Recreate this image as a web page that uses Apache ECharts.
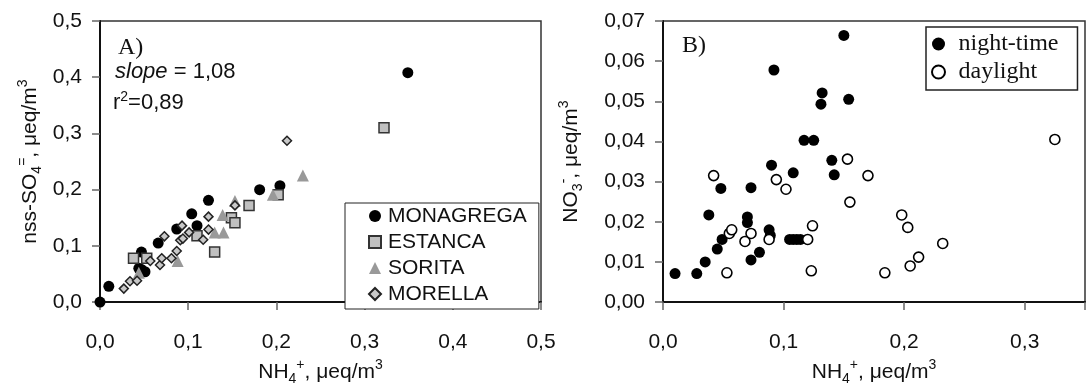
<!DOCTYPE html>
<html><head><meta charset="utf-8">
<script src="https://cdn.jsdelivr.net/npm/echarts@6/dist/echarts.min.js"></script>
<style>html,body{margin:0;padding:0;background:#fff}#c{width:1088px;height:391px}</style>
</head><body><div id="c"></div>
<script>
// ---- Data ----
const monagrega = [[0.000,0.000],[0.010,0.028],[0.044,0.060],[0.047,0.089],[0.047,0.058],[0.051,0.054],[0.066,0.105],[0.087,0.130],[0.104,0.157],[0.110,0.136],[0.123,0.181],[0.181,0.200],[0.204,0.207],[0.349,0.408]];
const estanca = [[0.038,0.078],[0.053,0.078],[0.110,0.118],[0.130,0.089],[0.149,0.150],[0.153,0.141],[0.169,0.172],[0.202,0.191],[0.322,0.310]];
const sorita = [[0.044,0.052],[0.088,0.073],[0.130,0.124],[0.140,0.124],[0.139,0.155],[0.153,0.180],[0.196,0.191],[0.230,0.225]];
const morella = [[0.027,0.024],[0.034,0.037],[0.042,0.038],[0.057,0.073],[0.068,0.066],[0.070,0.078],[0.081,0.078],[0.087,0.091],[0.073,0.117],[0.091,0.110],[0.094,0.113],[0.093,0.136],[0.101,0.124],[0.117,0.111],[0.123,0.129],[0.123,0.152],[0.153,0.172],[0.212,0.287]];
const nightTime = [[0.010,0.0071],[0.028,0.0071],[0.035,0.0100],[0.038,0.0217],[0.045,0.0132],[0.049,0.0156],[0.048,0.0283],[0.073,0.0285],[0.070,0.0212],[0.070,0.0198],[0.073,0.0105],[0.080,0.0124],[0.088,0.0180],[0.089,0.0166],[0.090,0.0341],[0.092,0.0578],[0.105,0.0156],[0.108,0.0156],[0.111,0.0156],[0.114,0.0156],[0.108,0.0322],[0.117,0.0403],[0.125,0.0403],[0.131,0.0493],[0.132,0.0521],[0.140,0.0353],[0.142,0.0317],[0.150,0.0664],[0.154,0.0505]];
const daylight = [[0.042,0.0315],[0.094,0.0305],[0.102,0.0281],[0.055,0.0171],[0.057,0.0180],[0.073,0.0171],[0.068,0.0151],[0.088,0.0156],[0.053,0.0073],[0.124,0.0190],[0.120,0.0156],[0.123,0.0078],[0.155,0.0249],[0.153,0.0356],[0.170,0.0315],[0.198,0.0217],[0.203,0.0186],[0.232,0.0146],[0.212,0.0112],[0.205,0.0090],[0.184,0.0073],[0.325,0.0405]];
const xTicksA = ['0,0','0,1','0,2','0,3','0,4','0,5'];
const yTicksA = ['0,0','0,1','0,2','0,3','0,4','0,5'];
const xTicksB = ['0,0','0,1','0,2','0,3'];
const yTicksB = ['0,00','0,01','0,02','0,03','0,04','0,05','0,06','0,07'];

const SANS = "'Liberation Sans', Arial, sans-serif";
const SERIF = "'Liberation Serif', 'Times New Roman', serif";
const nameRich = {
  n: {fontSize: 21, fontFamily: SANS, color: '#111', lineHeight: 28, verticalAlign: 'middle'},
  sub: {fontSize: 14, fontFamily: SANS, color: '#111', lineHeight: 14, verticalAlign: 'bottom'},
  sup: {fontSize: 14, fontFamily: SANS, color: '#111', lineHeight: 14, verticalAlign: 'top'}
};
function axisCommon(labels, margin) {
  return {
    axisLine: {show: true, onZero: false, lineStyle: {color: '#111', width: 2}},
    axisTick: {show: true, inside: false, length: 8, lineStyle: {color: '#666', width: 1.5}},
    axisLabel: {fontSize: 21, fontFamily: SANS, color: '#111', margin: margin,
      formatter: (v, i) => labels[i] !== undefined ? labels[i] : ''},
    splitLine: {show: false},
    nameLocation: 'middle',
    nameTextStyle: {rich: nameRich}
  };
}
const chart = echarts.init(document.getElementById('c'), null, {renderer: 'canvas'});
chart.setOption({
  backgroundColor: '#fff',
  animation: false,
  grid: [
    {left: 100, top: 21, width: 441, height: 287, show: true, borderColor: '#333', borderWidth: 1.5, backgroundColor: 'transparent'},
    {left: 663, top: 21, width: 430, height: 287, show: true, borderColor: '#333', borderWidth: 1.5, backgroundColor: 'transparent'}
  ],
  xAxis: [
    Object.assign(axisCommon(xTicksA, 30), {type: 'value', gridIndex: 0, min: 0, max: 0.5, interval: 0.1,
      name: '{n|NH}{sub|4}{sup|+}{n|, μeq/m}{sup|3}', nameGap: 54}),
    Object.assign(axisCommon(xTicksB, 30), {type: 'value', gridIndex: 1, min: 0, max: 0.35, interval: 0.1,
      name: '{n|NH}{sub|4}{sup|+}{n|, μeq/m}{sup|3}', nameGap: 54})
  ],
  yAxis: [
    Object.assign(axisCommon(yTicksA, 18), {type: 'value', gridIndex: 0, min: 0, max: 0.5, interval: 0.1,
      name: '{n|nss-SO}{sub|4}{sup|=}{n|, μeq/m}{sup|3}', nameGap: 56}),
    Object.assign(axisCommon(yTicksB, 18), {type: 'value', gridIndex: 1, min: 0, max: 0.07, interval: 0.01,
      name: '{n|NO}{sub|3}{sup|-}{n|, μeq/m}{sup|3}', nameGap: 78})
  ],
  legend: [
    {data: ['MONAGREGA','ESTANCA','SORITA','MORELLA'], orient: 'vertical', left: 345, top: 203,
      padding: [2, 12, 4, 23], itemWidth: 12, itemHeight: 12, itemGap: 4,
      borderColor: '#222', borderWidth: 1, backgroundColor: '#fff', borderRadius: 0,
      textStyle: {fontSize: 21, fontFamily: SANS, color: '#111', lineHeight: 22, padding: [0, 0, 0, 2]}},
    {data: ['night-time','daylight'], orient: 'vertical', left: 926, top: 27,
      padding: [4, 19, 5, 5], itemWidth: 30, itemHeight: 13, itemGap: 2,
      borderColor: '#222', borderWidth: 1.5, backgroundColor: '#fff', borderRadius: 0,
      textStyle: {fontSize: 24, fontFamily: SERIF, color: '#111', lineHeight: 26}}
  ],
  series: [
    {name: 'MONAGREGA', type: 'scatter', xAxisIndex: 0, yAxisIndex: 0, data: monagrega, symbol: 'circle', symbolSize: 11,
      itemStyle: {color: '#000', opacity: 1}},
    {name: 'ESTANCA', type: 'scatter', xAxisIndex: 0, yAxisIndex: 0, data: estanca, symbol: 'rect', symbolSize: 10,
      itemStyle: {color: '#c0c0c0', borderColor: '#333', borderWidth: 1.5, opacity: 1}},
    {name: 'SORITA', type: 'scatter', xAxisIndex: 0, yAxisIndex: 0, data: sorita, symbol: 'triangle', symbolSize: 12,
      itemStyle: {color: '#999', opacity: 1}},
    {name: 'MORELLA', type: 'scatter', xAxisIndex: 0, yAxisIndex: 0, data: morella, symbol: 'diamond', symbolSize: 9,
      itemStyle: {color: '#c8c8c8', borderColor: '#222', borderWidth: 1.5, opacity: 1}},
    {name: 'night-time', type: 'scatter', xAxisIndex: 1, yAxisIndex: 1, data: nightTime, symbol: 'circle', symbolSize: 11,
      itemStyle: {color: '#000', opacity: 1}},
    {name: 'daylight', type: 'scatter', xAxisIndex: 1, yAxisIndex: 1, data: daylight, symbol: 'circle', symbolSize: 10,
      itemStyle: {color: '#fff', borderColor: '#000', borderWidth: 1.6, opacity: 1}}
  ],
  graphic: [
    {type: 'text', left: 118, top: 36, style: {text: 'A)', font: "24px 'Liberation Serif'", fill: '#111'}},
    {type: 'text', left: 115, top: 61, style: {text: '{i|slope}{n| = 1,08}', rich: {
      i: {fontSize: 22, fontFamily: SANS, fontStyle: 'italic', fill: '#111'},
      n: {fontSize: 22, fontFamily: SANS, fill: '#111'}}}},
    {type: 'text', left: 113, top: 90, style: {text: '{n|r}{s|2}{n|=0,89}', rich: {
      n: {fontSize: 22, fontFamily: SANS, fill: '#111', lineHeight: 26, verticalAlign: 'middle'},
      s: {fontSize: 14, fontFamily: SANS, fill: '#111', lineHeight: 14, verticalAlign: 'top'}}}},
    {type: 'text', left: 682, top: 34, style: {text: 'B)', font: "24px 'Liberation Serif'", fill: '#111'}}
  ]
});
</script></body></html>
